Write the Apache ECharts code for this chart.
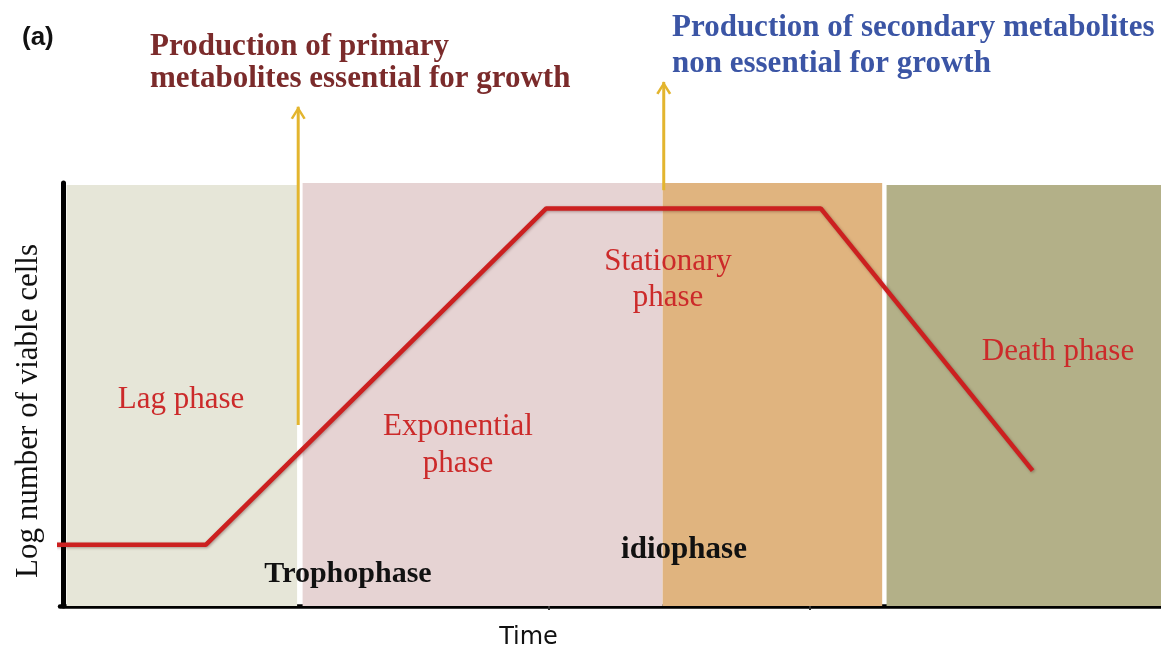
<!DOCTYPE html>
<html>
<head>
<meta charset="utf-8">
<script src="https://cdn.jsdelivr.net/npm/echarts@6/dist/echarts.min.js"></script>
<style>
  html, body { margin: 0; padding: 0; background: #fff; }
  #growthChart { width: 1161px; height: 655px; }
</style>
</head>
<body>
<div id="growthChart"></div>
<script>
// growth curve (time and log cells in arbitrary units 0..100)
const growthTime = [-0.7, 13, 44, 69, 88.3];
const logCells = [14.5, 14.5, 94, 94, 32];

// background bands of the four phases
const phaseNames = ['Lag phase', 'Exponential phase', 'Stationary phase', 'Death phase'];
const phaseStart = [0.3, 21.8, 54.6, 75];
const phaseEnd = [21.3, 54.6, 74.6, 100];
const phaseTop = [99.5, 100, 100, 99.5];

// the two yellow arrows
const arrowTime = [21.4, 54.7];
const arrowFrom = [42.8, 98.3];
const arrowTo = [118, 123.9];

// small ticks under the time axis
const timeTicks = [44.2, 68];

const bandColors = ['#e6e6d8', '#e6d3d3', '#e0b47f', '#b3b088'];
const serif = '"Liberation Serif", "DejaVu Serif", serif';
const sans = '"DejaVu Sans", "Liberation Sans", sans-serif';

var chart = echarts.init(document.getElementById('growthChart'));

// build series data from the arrays
var curveData = [];
for (var i = 0; i < growthTime.length; i++) {
  curveData.push([growthTime[i], logCells[i]]);
}

var bandData = [];
for (var i = 0; i < phaseNames.length; i++) {
  bandData.push([
    { name: phaseNames[i], xAxis: phaseStart[i], yAxis: 0, itemStyle: { color: bandColors[i] } },
    { xAxis: phaseEnd[i], yAxis: phaseTop[i] }
  ]);
}

var chevron = 'path://M0,10 L6,0 L12,10 L10.2,11 L6,3.8 L1.8,11 Z';
var arrowSeries = arrowTime.map(function (t, i) {
  return {
    type: 'line',
    z: 4,
    clip: false,
    silent: true,
    lineStyle: { color: '#e3b52e', width: 3 },
    itemStyle: { color: '#e3b52e' },
    data: [
      { value: [t, arrowFrom[i]], symbol: 'none' },
      { value: [t, arrowTo[i]], symbol: chevron, symbolSize: [15, 13], symbolOffset: [0, 6] }
    ]
  };
});

function label(text, x, y, opts) {
  opts = opts || {};
  return {
    type: 'text',
    x: x,
    y: y,
    z: 10,
    style: {
      text: text,
      fill: opts.color || '#cc2a2a',
      fontFamily: opts.font || serif,
      fontSize: opts.size || 31,
      fontWeight: opts.bold ? 'bold' : 'normal',
      lineHeight: opts.lineHeight,
      align: opts.align || 'center',
      verticalAlign: 'middle'
    }
  };
}

chart.setOption({
  animation: false,
  grid: { left: 60, right: 0, top: 183, bottom: 49, outerBoundsMode: 'none' },
  xAxis: {
    type: 'value',
    min: -0.3,
    max: 100,
    name: 'Time',
    nameLocation: 'middle',
    nameGap: 20,
    nameTextStyle: { fontFamily: sans, fontSize: 24, color: '#111', padding: [0, 164, 0, 0] },
    axisLine: { onZero: true, lineStyle: { color: '#000', width: 4.5 } },
    axisTick: { show: true, customValues: timeTicks, length: 4, lineStyle: { color: '#333', width: 2 } },
    axisLabel: { show: false },
    splitLine: { show: false }
  },
  yAxis: {
    type: 'value',
    min: 0,
    max: 100,
    name: 'Log number of viable cells',
    nameLocation: 'middle',
    nameRotate: 90,
    nameGap: 16,
    nameTextStyle: { fontFamily: serif, fontSize: 31, color: '#111', padding: [0, 33, 0, 0] },
    axisLine: { onZero: true, lineStyle: { color: '#000', width: 5 } },
    axisTick: { show: false },
    axisLabel: { show: false },
    splitLine: { show: false }
  },
  series: [
    {
      type: 'line',
      z: 1,
      silent: true,
      data: [],
      markArea: { silent: true, label: { show: false }, data: bandData }
    },
    {
      type: 'line',
      z: 5,
      silent: true,
      symbol: 'none',
      clip: false,
      data: curveData,
      lineStyle: {
        color: '#cc2020',
        width: 4.5,
        shadowColor: 'rgba(60,0,0,0.35)',
        shadowBlur: 3,
        shadowOffsetX: 1,
        shadowOffsetY: 1
      }
    }
  ].concat(arrowSeries),
  graphic: [
    label('(a)', 22, 38, { font: '"Liberation Sans", Arial, sans-serif', size: 26, bold: true, color: '#111', align: 'left' }),
    label('Production of primary\nmetabolites essential for growth', 150, 63,
      { bold: true, color: '#7b2b2b', align: 'left', lineHeight: 32 }),
    label('Production of secondary metabolites\nnon essential for growth', 672, 46,
      { bold: true, color: '#3b55a5', align: 'left', lineHeight: 36 }),
    label('Lag phase', 181, 400),
    label('Exponential\nphase', 458, 445, { lineHeight: 37 }),
    label('Stationary\nphase', 668, 280, { lineHeight: 36 }),
    label('Death phase', 1058, 352),
    label('Trophophase', 348, 574, { size: 30, bold: true, color: '#111' }),
    label('idiophase', 684, 550, { bold: true, color: '#111' })
  ]
});
</script>
</body>
</html>
